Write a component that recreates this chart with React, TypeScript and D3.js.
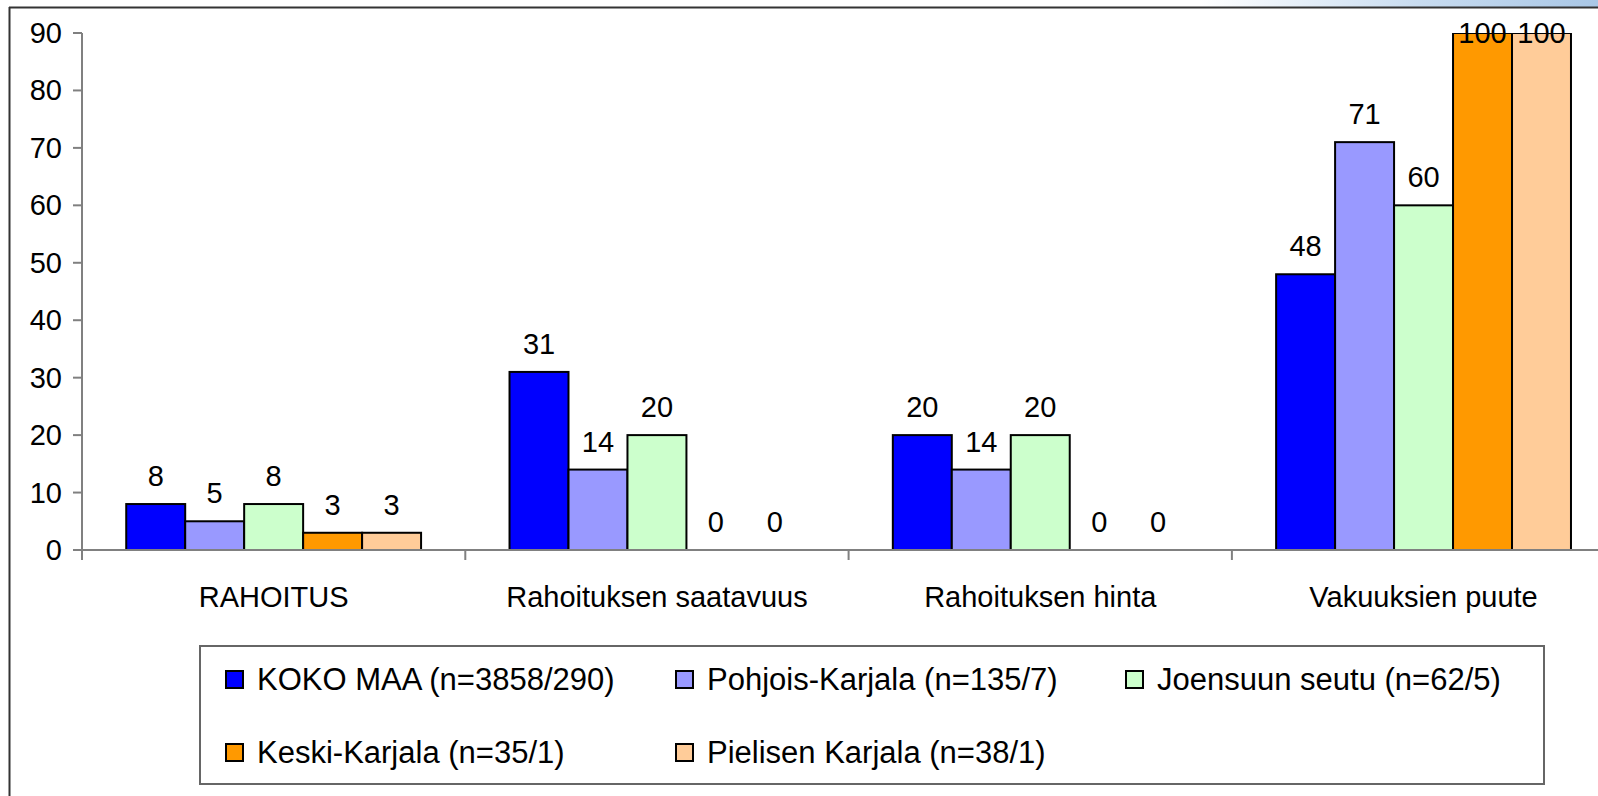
import React from "react";
import * as d3 from "d3";

const categories = ["RAHOITUS", "Rahoituksen saatavuus", "Rahoituksen hinta", "Vakuuksien puute"];
const seriesNames = [
  "KOKO MAA (n=3858/290)",
  "Pohjois-Karjala (n=135/7)",
  "Joensuun seutu (n=62/5)",
  "Keski-Karjala (n=35/1)",
  "Pielisen Karjala (n=38/1)",
];
const kokoMaa = [8, 31, 20, 48];
const pohjoisKarjala = [5, 14, 14, 71];
const joensuunSeutu = [8, 20, 20, 60];
const keskiKarjala = [3, 0, 0, 100];
const pielisenKarjala = [3, 0, 0, 100];
const seriesValues = [kokoMaa, pohjoisKarjala, joensuunSeutu, keskiKarjala, pielisenKarjala];
const colors = ["#0000FF", "#9999FF", "#CCFFCC", "#FF9900", "#FFCC99"];
const yTicks = [0, 10, 20, 30, 40, 50, 60, 70, 80, 90];

const W = 1598;
const H = 796;
const FONT = "'Liberation Sans', Arial, sans-serif";

export default function App() {
  const plotLeft = 82;
  const bandW = 383.3;
  const plotRight = plotLeft + bandW * categories.length;
  const y0 = 550;
  const yTop = 33;
  const y = d3.scaleLinear().domain([0, 90]).range([y0, yTop]);
  const x = d3.scaleBand<string>().domain(categories).range([plotLeft, plotRight]).padding(0);
  const bw = x.bandwidth();
  const xs = d3
    .scaleBand<string>()
    .domain(seriesNames)
    .range([(bw * 0.75) / 6.5, (bw * 5.75) / 6.5])
    .padding(0);

  const fs = 29;
  const lfs = 31;

  return (
    <svg width={W} height={H} style={{ position: "absolute", left: 0, top: 0 }} fontFamily={FONT}>
      <defs>
        <linearGradient id="band" x1="0" x2="1" y1="0" y2="0">
          <stop offset="0" stopColor="#ffffff" />
          <stop offset="0.55" stopColor="#c8dcf0" />
          <stop offset="1" stopColor="#a9c7e6" />
        </linearGradient>
        <clipPath id="plotclip">
          <rect x={0} y={yTop} width={W} height={H} />
        </clipPath>
      </defs>
      <rect x={0} y={0} width={W} height={H} fill="#fff" />
      <rect x={1200} y={0} width={W - 1200} height={7} fill="url(#band)" />
      <line x1={9} x2={W} y1={7.5} y2={7.5} stroke="#333" strokeWidth={2} />
      <line x1={9.5} x2={9.5} y1={7} y2={H} stroke="#333" strokeWidth={2} />

      {/* y axis */}
      <line x1={plotLeft} x2={plotLeft} y1={yTop} y2={y0 + 10} stroke="#808080" strokeWidth={2} />
      {yTicks.map((t) => (
        <g key={t}>
          <line x1={plotLeft - 9} x2={plotLeft} y1={y(t)} y2={y(t)} stroke="#808080" strokeWidth={2} />
          <text x={62} y={y(t) + 10} textAnchor="end" fontSize={fs} fill="#000">
            {t}
          </text>
        </g>
      ))}

      {/* bars */}
      <g clipPath="url(#plotclip)">
        {categories.map((c, ci) =>
          seriesNames.map((s, si) => {
            const v = seriesValues[si][ci];
            if (v <= 0) return null;
            const vy = y(Math.min(v, 90));
            return (
              <rect
                key={c + s}
                x={(x(c) as number) + (xs(s) as number)}
                y={vy}
                width={xs.bandwidth()}
                height={y0 - vy}
                fill={colors[si]}
                stroke="#000"
                strokeWidth={2}
              />
            );
          })
        )}
      </g>

      {/* x axis */}
      <line x1={plotLeft} x2={W} y1={y0} y2={y0} stroke="#808080" strokeWidth={2} />
      {categories.map((c) => (
        <line key={c} x1={x(c) as number} x2={x(c) as number} y1={y0} y2={y0 + 10} stroke="#808080" strokeWidth={2} />
      ))}

      {/* value labels */}
      {categories.map((c, ci) =>
        seriesNames.map((s, si) => {
          const v = seriesValues[si][ci];
          const ly = Math.max(y(v) - 18, yTop + 10);
          return (
            <text
              key={"l" + c + s}
              x={(x(c) as number) + (xs(s) as number) + xs.bandwidth() / 2}
              y={ly}
              textAnchor="middle"
              fontSize={fs}
              fill="#000"
            >
              {v}
            </text>
          );
        })
      )}

      {/* category labels */}
      {categories.map((c) => (
        <text key={"c" + c} x={(x(c) as number) + bw / 2} y={607} textAnchor="middle" fontSize={fs} fill="#000">
          {c}
        </text>
      ))}

      {/* legend */}
      <rect x={200} y={646} width={1344} height={138} fill="#fff" stroke="#666" strokeWidth={2} />
      {seriesNames.map((s, i) => {
        const col = i % 3;
        const row = Math.floor(i / 3);
        const lx = 226 + col * 450;
        const ly = 679 + row * 73;
        return (
          <g key={"lg" + s}>
            <rect x={lx} y={ly - 8} width={17} height={17} fill={colors[i]} stroke="#000" strokeWidth={2} />
            <text x={lx + 31} y={ly + 11} fontSize={lfs} fill="#000">
              {s}
            </text>
          </g>
        );
      })}
    </svg>
  );
}
